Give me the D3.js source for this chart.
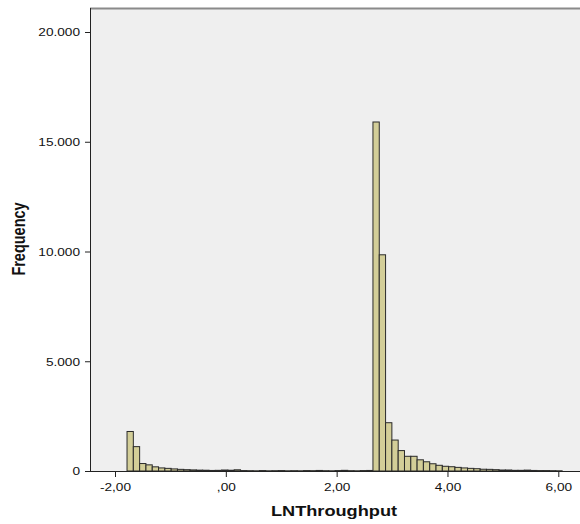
<!DOCTYPE html>
<html>
<head>
<meta charset="utf-8">
<script src="https://cdn.jsdelivr.net/npm/d3@7"></script>
<style>
  body { margin: 0; background: #fff; }
  svg { display: block; font-family: "Liberation Sans", Arial, sans-serif; }
</style>
</head>
<body>
<div id="chart"></div>
<script>
// histogram of LNThroughput, bins of equal width
const binStart = -1.783;
const binWidth = 0.1138;
const counts = [
    1800, 1110, 340, 280, 190, 140, 120, 95, 75, 60,
    50, 40, 35, 25, 30, 45, 35, 55, 20, 15,
    10, 20, 10, 15, 20, 10, 15, 10, 20, 15,
    25, 15, 10, 20, 30, 15, 10, 20, 25,
    15900, 9850, 2200, 1410, 930, 670, 670, 510, 420, 330,
    260, 215, 195, 165, 140, 120, 105, 80, 75, 60,
    45, 45, 30, 30, 40, 25, 20, 20, 15, 10
];
const xTickValues = [-2, 0, 2, 4, 6];
const xTickLabels = ["-2,00", ",00", "2,00", "4,00", "6,00"];
const yTickValues = [0, 5000, 10000, 15000, 20000];
const yTickLabels = ["0", "5.000", "10.000", "15.000", "20.000"];

const width = 580;
const height = 524;
const plot = { left: 90, top: 8, right: 580, bottom: 471 };
const stretch = 1.3; // labels in the original are wide

const bins = counts.map((c, i) => ({ x0: binStart + i * binWidth, x1: binStart + (i + 1) * binWidth, count: c }));

const svg = d3.select("#chart")
    .append("svg")
    .attr("width", width)
    .attr("height", height);

const x = d3.scaleLinear().domain([-2, 6]).range([115, 558.3]);
const y = d3.scaleLinear().domain([0, 20000]).range([plot.bottom, 32]);

// plot background
svg.append("rect")
    .attr("x", plot.left)
    .attr("y", plot.top)
    .attr("width", plot.right - plot.left)
    .attr("height", plot.bottom - plot.top)
    .attr("fill", "#efefef");
svg.append("line")
    .attr("x1", plot.left).attr("x2", plot.right)
    .attr("y1", plot.top + 0.5).attr("y2", plot.top + 0.5)
    .attr("stroke", "#8a8a8a")
    .attr("stroke-width", 2);

// bars
svg.append("g")
    .selectAll("rect")
    .data(bins)
    .join("rect")
    .attr("x", d => x(d.x0))
    .attr("width", d => x(d.x1) - x(d.x0))
    .attr("y", d => y(d.count))
    .attr("height", d => y(0) - y(d.count))
    .attr("fill", "#d3ce98")
    .attr("stroke", "#2a2a2a")
    .attr("stroke-width", 1);

// y axis
const yAxis = svg.append("g")
    .attr("transform", `translate(${plot.left},0)`)
    .call(d3.axisLeft(y)
        .tickValues(yTickValues)
        .tickFormat((d, i) => yTickLabels[i])
        .tickSize(5)
        .tickSizeOuter(0));
yAxis.select(".domain")
    .attr("d", `M0.5,${plot.top}V${plot.bottom}`)
    .attr("stroke", "#222");
yAxis.selectAll(".tick line").attr("stroke", "#222");
yAxis.selectAll(".tick text")
    .attr("x", 0)
    .attr("dy", "0.36em")
    .attr("transform", `translate(-10,0) scale(${stretch},1)`)
    .attr("font-size", "10.5px")
    .attr("font-family", "Liberation Sans, Arial, sans-serif")
    .attr("fill", "#111");

// x axis
const xAxis = svg.append("g")
    .attr("transform", `translate(0,${plot.bottom})`)
    .call(d3.axisBottom(x)
        .tickValues(xTickValues)
        .tickFormat((d, i) => xTickLabels[i])
        .tickSize(6)
        .tickSizeOuter(0));
xAxis.select(".domain")
    .attr("d", `M${plot.left},0.5H${plot.right}`)
    .attr("stroke", "#222");
xAxis.selectAll(".tick line").attr("stroke", "#222");
xAxis.selectAll(".tick text")
    .attr("y", 0)
    .attr("dy", 0)
    .attr("transform", `translate(0,20) scale(${stretch},1)`)
    .attr("font-size", "10.5px")
    .attr("font-family", "Liberation Sans, Arial, sans-serif")
    .attr("fill", "#111");

// axis titles
svg.append("text")
    .attr("transform", `translate(334,516) scale(${stretch},1)`)
    .attr("text-anchor", "middle")
    .attr("font-size", "14px")
    .attr("font-weight", "bold")
    .attr("fill", "#111")
    .text("LNThroughput");

svg.append("text")
    .attr("transform", "translate(25,239) rotate(-90) scale(1,1.3)")
    .attr("text-anchor", "middle")
    .attr("font-size", "14.5px")
    .attr("font-weight", "bold")
    .attr("fill", "#111")
    .text("Frequency");
</script>
</body>
</html>
